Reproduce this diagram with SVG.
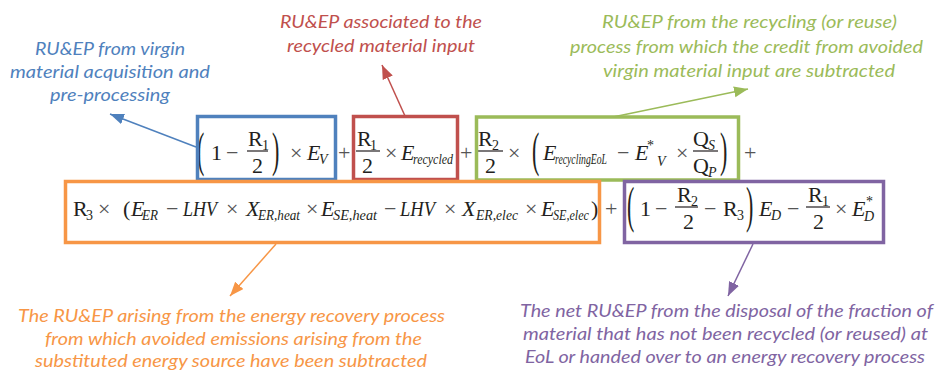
<svg xmlns="http://www.w3.org/2000/svg" width="938" height="372" viewBox="0 0 938 372">
  <style>
    .lbl { font-family: Lato, "Liberation Sans", sans-serif; font-style: italic; font-size: 17px; }
    .blue { fill: #4f81bd; } .red { fill: #c0504d; } .green { fill: #9bbb59; }
    .orange { fill: #f79646; } .purple { fill: #8064a2; }
    .box { fill: none; stroke-width: 3.5; }
    .m { font-family: "Liberation Serif", "Times New Roman", serif; font-size: 22px; fill: #231f20; }
    .i { font-style: italic; }
    .s { font-size: 14px; }
    .op { fill: #555; }
    .bar { stroke: #231f20; stroke-width: 1.2; }
    .con { fill: none; stroke-width: 1.5; }
  </style>
  <defs>
    <marker id="hBlue" markerUnits="userSpaceOnUse" markerWidth="15" markerHeight="12" refX="14" refY="5.5" orient="auto"><path d="M0,0 L14,5.5 L0,11 z" fill="#4f81bd"/></marker>
    <marker id="hRed" markerUnits="userSpaceOnUse" markerWidth="15" markerHeight="12" refX="14" refY="5.5" orient="auto"><path d="M0,0 L14,5.5 L0,11 z" fill="#c0504d"/></marker>
    <marker id="hGreen" markerUnits="userSpaceOnUse" markerWidth="15" markerHeight="12" refX="14" refY="5.5" orient="auto"><path d="M0,0 L14,5.5 L0,11 z" fill="#9bbb59"/></marker>
    <marker id="hOrange" markerUnits="userSpaceOnUse" markerWidth="15" markerHeight="12" refX="14" refY="5.5" orient="auto"><path d="M0,0 L14,5.5 L0,11 z" fill="#f79646"/></marker>
    <marker id="hPurple" markerUnits="userSpaceOnUse" markerWidth="15" markerHeight="12" refX="14" refY="5.5" orient="auto"><path d="M0,0 L14,5.5 L0,11 z" fill="#8064a2"/></marker>
  </defs>
  <rect width="938" height="372" fill="#ffffff"/>

  <!-- Formula, row 1 -->
  <g id="formula-row1" class="m">
    <text transform="translate(197,154.5) scale(1,2.25)" y="5">(</text>
    <text x="211" y="160">1</text>
    <text x="226" y="160" class="op">−</text>
    <text x="248" y="146">R</text><text x="262" y="150" class="s">1</text>
    <line x1="247" y1="151" x2="268" y2="151" class="bar"/>
    <text x="252" y="173">2</text>
    <text transform="translate(272,154.5) scale(1,2.25)" y="5">)</text>
    <text x="290" y="160" class="op">×</text>
    <text x="307" y="160" class="i">E</text><text x="319" y="164" class="i s">V</text>
    <text x="338" y="160" class="op">+</text>

    <text x="357" y="146">R</text><text x="370" y="150" class="s">1</text>
    <line x1="356" y1="151" x2="380" y2="151" class="bar"/>
    <text x="362" y="173">2</text>
    <text x="385" y="160" class="op">×</text>
    <text x="401" y="160" class="i">E</text><text x="413" y="164" class="i s" textLength="40" lengthAdjust="spacingAndGlyphs">recycled</text>
    <text x="460" y="160" class="op">+</text>

    <text x="478" y="146">R</text><text x="492" y="150" class="s">2</text>
    <line x1="477" y1="151" x2="503" y2="151" class="bar"/>
    <text x="485" y="173">2</text>
    <text x="508" y="160" class="op">×</text>
    <text transform="translate(532,154.5) scale(1,2.25)" y="5">(</text>
    <text x="543" y="160" class="i">E</text><text x="555" y="164" class="i s" textLength="52" lengthAdjust="spacingAndGlyphs">recyclingEoL</text>
    <text x="617" y="160" class="op">−</text>
    <text x="635" y="160" class="i">E</text><text x="647" y="150" class="s">*</text><text x="657" y="166" class="i s">V</text>
    <text x="676" y="160" class="op">×</text>
    <text x="693" y="146">Q</text><text x="708" y="150" class="i s">S</text>
    <line x1="693" y1="151" x2="718" y2="151" class="bar"/>
    <text x="693" y="173">Q</text><text x="708" y="177" class="i s">P</text>
    <text transform="translate(720,154.5) scale(1,2.25)" y="5">)</text>
    <text x="744" y="160" class="op">+</text>
  </g>

  <!-- Formula, row 2 -->
  <g id="formula-row2" class="m">
    <text x="73" y="216">R</text><text x="86" y="220" class="s">3</text>
    <text x="98" y="216" class="op">×</text>
    <text x="123" y="216">(</text>
    <text x="131" y="216" class="i">E</text><text x="142" y="220" class="i s" textLength="16" lengthAdjust="spacingAndGlyphs">ER</text>
    <text x="166" y="216" class="op">−</text>
    <text x="183" y="216" class="i" textLength="34" lengthAdjust="spacingAndGlyphs">LHV</text>
    <text x="226" y="216" class="op">×</text>
    <text x="246" y="216" class="i">X</text><text x="258" y="220" class="i s" textLength="42" lengthAdjust="spacingAndGlyphs">ER,heat</text>
    <text x="306" y="216" class="op">×</text>
    <text x="321" y="216" class="i">E</text><text x="333" y="220" class="i s" textLength="44" lengthAdjust="spacingAndGlyphs">SE,heat</text>
    <text x="384" y="216" class="op">−</text>
    <text x="400" y="216" class="i" textLength="35" lengthAdjust="spacingAndGlyphs">LHV</text>
    <text x="444" y="216" class="op">×</text>
    <text x="462" y="216" class="i">X</text><text x="476" y="220" class="i s" textLength="42" lengthAdjust="spacingAndGlyphs">ER,elec</text>
    <text x="525" y="216" class="op">×</text>
    <text x="541" y="216" class="i">E</text><text x="553" y="220" class="i s" textLength="36" lengthAdjust="spacingAndGlyphs">SE,elec</text>
    <text x="591" y="216">)</text>
    <text x="605" y="216" class="op">+</text>

    <text transform="translate(627,210) scale(1,2.3)" y="5">(</text>
    <text x="640" y="216">1</text>
    <text x="655" y="216" class="op">−</text>
    <text x="677" y="202">R</text><text x="691" y="206" class="s">2</text>
    <line x1="675" y1="207" x2="698" y2="207" class="bar"/>
    <text x="683" y="229">2</text>
    <text x="704" y="216" class="op">−</text>
    <text x="723" y="216">R</text><text x="737" y="220" class="s">3</text>
    <text transform="translate(746,210) scale(1,2.3)" y="5">)</text>
    <text x="759" y="216" class="i">E</text><text x="771" y="220" class="i s">D</text>
    <text x="787" y="216" class="op">−</text>
    <text x="808" y="202">R</text><text x="822" y="206" class="s">1</text>
    <line x1="806" y1="207" x2="830" y2="207" class="bar"/>
    <text x="813" y="229">2</text>
    <text x="835" y="216" class="op">×</text>
    <text x="852" y="216" class="i">E</text><text x="866" y="206" class="s">*</text><text x="864" y="221" class="i s">D</text>
  </g>

  <!-- Term boxes -->
  <g id="box-virgin"><rect class="box" x="197.5" y="116.5" width="138" height="63" stroke="#4f81bd"/></g>
  <g id="box-recycled"><rect class="box" x="353.5" y="116.5" width="104" height="63" stroke="#c0504d"/></g>
  <g id="box-recycling"><rect class="box" x="476.5" y="117" width="262" height="63" stroke="#9bbb59"/></g>
  <g id="box-energy-recovery"><rect class="box" x="65.5" y="181.5" width="534" height="61" stroke="#f79646"/></g>
  <g id="box-disposal"><rect class="box" x="624.5" y="181.5" width="259" height="61" stroke="#8064a2"/></g>

  <!-- Connectors -->
  <g id="connectors">
    <line class="con" x1="196" y1="147" x2="110" y2="114" stroke="#4f81bd" marker-end="url(#hBlue)"/>
    <line class="con" x1="405" y1="116" x2="382" y2="65" stroke="#c0504d" marker-end="url(#hRed)"/>
    <line class="con" x1="613" y1="117" x2="748" y2="89" stroke="#9bbb59" marker-end="url(#hGreen)"/>
    <line class="con" x1="276" y1="244" x2="230" y2="296" stroke="#f79646" marker-end="url(#hOrange)"/>
    <line class="con" x1="753" y1="244" x2="728" y2="296" stroke="#8064a2" marker-end="url(#hPurple)"/>
  </g>

  <!-- Callout labels -->
  <g id="label-virgin" class="lbl blue">
    <text x="35" y="55" textLength="150" lengthAdjust="spacingAndGlyphs">RU&amp;EP from virgin</text>
    <text x="10" y="78" textLength="200" lengthAdjust="spacingAndGlyphs">material acquisition and</text>
    <text x="50" y="101" textLength="120" lengthAdjust="spacingAndGlyphs">pre-processing</text>
  </g>
  <g id="label-recycled" class="lbl red">
    <text x="280" y="28" textLength="202" lengthAdjust="spacingAndGlyphs">RU&amp;EP associated to the</text>
    <text x="287" y="52" textLength="188" lengthAdjust="spacingAndGlyphs">recycled material input</text>
  </g>
  <g id="label-recycling" class="lbl green">
    <text x="602" y="28" textLength="295" lengthAdjust="spacingAndGlyphs">RU&amp;EP from the recycling (or reuse)</text>
    <text x="570" y="53" textLength="353" lengthAdjust="spacingAndGlyphs">process from which the credit from avoided</text>
    <text x="603" y="77" textLength="292" lengthAdjust="spacingAndGlyphs">virgin material input are subtracted</text>
  </g>
  <g id="label-energy-recovery" class="lbl orange">
    <text x="18" y="322" textLength="427" lengthAdjust="spacingAndGlyphs">The RU&amp;EP arising from the energy recovery process</text>
    <text x="45" y="345" textLength="377" lengthAdjust="spacingAndGlyphs">from which avoided emissions arising from the</text>
    <text x="35" y="367" textLength="392" lengthAdjust="spacingAndGlyphs">substituted energy source have been subtracted</text>
  </g>
  <g id="label-disposal" class="lbl purple">
    <text x="520" y="317" textLength="413" lengthAdjust="spacingAndGlyphs">The net RU&amp;EP from the disposal of the fraction of</text>
    <text x="523" y="340" textLength="405" lengthAdjust="spacingAndGlyphs">material that has not been recycled (or reused) at</text>
    <text x="525" y="363" textLength="400" lengthAdjust="spacingAndGlyphs">EoL or handed over to an energy recovery process</text>
  </g>
</svg>
